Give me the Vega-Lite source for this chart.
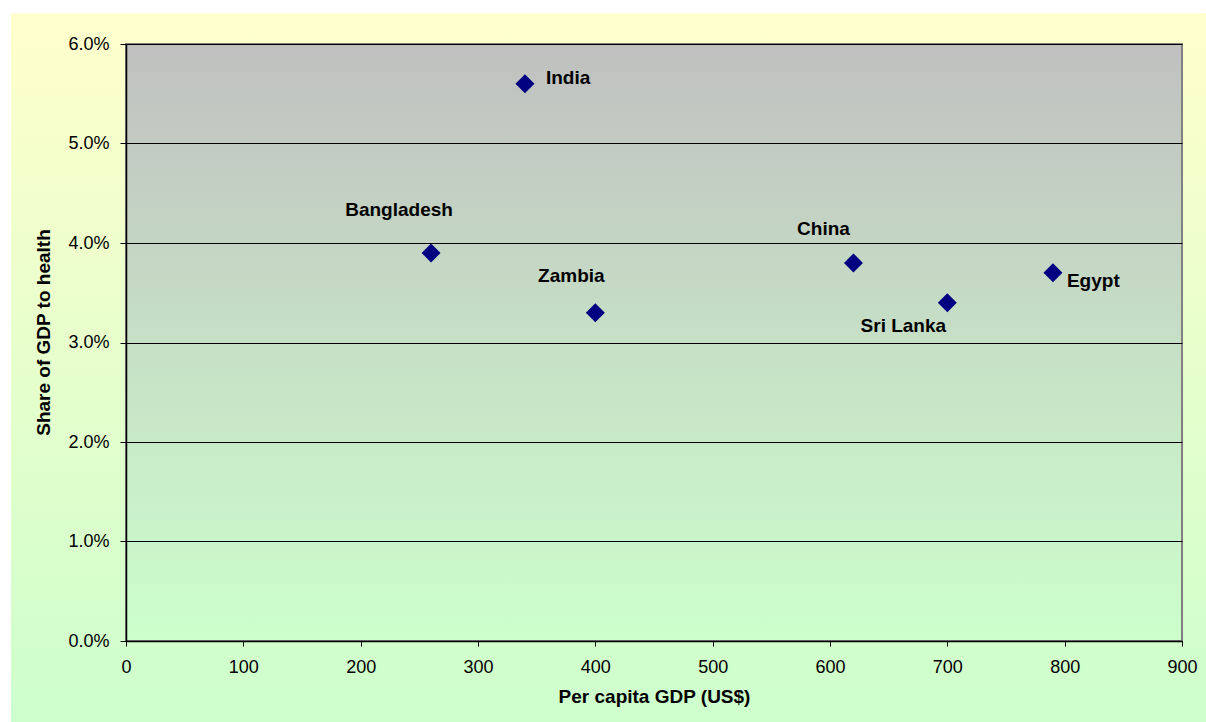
{
  "$schema": "https://vega.github.io/schema/vega-lite/v6.json",
  "width": 1056,
  "height": 597,
  "autosize": {"type": "none"},
  "padding": {"left": 126, "top": 44, "right": 24, "bottom": 81},
  "background": "#ffffff",
  "config": {
    "view": {"stroke": null},
    "font": "Liberation Sans",
    "axis": {
      "labelFont": "Liberation Sans",
      "labelFontSize": 18,
      "labelColor": "#000000",
      "labelFlush": false,
      "labelOverlap": false,
      "titleFont": "Liberation Sans",
      "titleFontSize": 19,
      "titleFontWeight": "bold",
      "titleColor": "#000000",
      "domainColor": "#000000",
      "domainWidth": 1.5,
      "tickColor": "#000000",
      "tickWidth": 1
    }
  },
  "data": {
    "values": [
      {"country": "India", "gdp": 340, "share": 0.056},
      {"country": "Bangladesh", "gdp": 260, "share": 0.039},
      {"country": "Zambia", "gdp": 400, "share": 0.033},
      {"country": "China", "gdp": 620, "share": 0.038},
      {"country": "Sri Lanka", "gdp": 700, "share": 0.034},
      {"country": "Egypt", "gdp": 790, "share": 0.037}
    ]
  },
  "layer": [
    {
      "data": {"values": [{}]},
      "mark": {
        "type": "rect",
        "clip": false,
        "fill": {
          "gradient": "linear",
          "x1": 0, "y1": 0, "x2": 0, "y2": 1,
          "stops": [
            {"offset": 0, "color": "#FFFFCC"},
            {"offset": 1, "color": "#CCFFCC"}
          ]
        }
      },
      "encoding": {
        "x": {
          "datum": -98,
          "type": "quantitative",
          "scale": {"domain": [0, 900], "nice": false, "zero": false},
          "axis": {
            "values": [0, 100, 200, 300, 400, 500, 600, 700, 800, 900],
            "grid": false,
            "tickSize": 5,
            "labelPadding": 12,
            "title": "Per capita GDP (US$)",
            "titlePadding": 11,
            "zindex": 2
          }
        },
        "x2": {"datum": 925},
        "y": {
          "datum": 0.0631,
          "type": "quantitative",
          "scale": {"domain": [0, 0.06], "nice": false, "zero": false},
          "axis": {
            "values": [0, 0.01, 0.02, 0.03, 0.04, 0.05, 0.06],
            "format": ".1%",
            "grid": true,
            "gridColor": "#000000",
            "gridWidth": 1,
            "tickSize": 6,
            "labelPadding": 11,
            "title": "Share of GDP to health",
            "titlePadding": 14,
            "titleY": 288,
            "zindex": 1
          }
        },
        "y2": {"datum": -0.009}
      }
    },
    {
      "data": {"values": [{}]},
      "mark": {
        "type": "rect",
        "stroke": "#808080",
        "strokeWidth": 2,
        "fill": {
          "gradient": "linear",
          "x1": 0, "y1": 0, "x2": 0, "y2": 1,
          "stops": [
            {"offset": 0, "color": "#C0C0C0"},
            {"offset": 1, "color": "#CCFFCC"}
          ]
        }
      },
      "encoding": {
        "x": {"datum": 0, "type": "quantitative"},
        "x2": {"datum": 900},
        "y": {"datum": 0.06, "type": "quantitative"},
        "y2": {"datum": 0}
      }
    },
    {
      "mark": {"type": "point", "shape": "diamond", "filled": true, "size": 361, "color": "#000080", "opacity": 1},
      "encoding": {
        "x": {"field": "gdp", "type": "quantitative"},
        "y": {"field": "share", "type": "quantitative"}
      }
    },
    {
      "transform": [{"filter": "datum.country === 'India'"}],
      "mark": {"type": "text", "font": "Liberation Sans", "fontSize": 19, "fontWeight": "bold", "color": "#000000", "align": "left", "baseline": "middle", "dx": 21, "dy": -6},
      "encoding": {"x": {"field": "gdp", "type": "quantitative"}, "y": {"field": "share", "type": "quantitative"}, "text": {"field": "country"}}
    },
    {
      "transform": [{"filter": "datum.country === 'Bangladesh'"}],
      "mark": {"type": "text", "font": "Liberation Sans", "fontSize": 19, "fontWeight": "bold", "color": "#000000", "align": "center", "baseline": "middle", "dx": -32, "dy": -43},
      "encoding": {"x": {"field": "gdp", "type": "quantitative"}, "y": {"field": "share", "type": "quantitative"}, "text": {"field": "country"}}
    },
    {
      "transform": [{"filter": "datum.country === 'Zambia'"}],
      "mark": {"type": "text", "font": "Liberation Sans", "fontSize": 19, "fontWeight": "bold", "color": "#000000", "align": "center", "baseline": "middle", "dx": -24, "dy": -37},
      "encoding": {"x": {"field": "gdp", "type": "quantitative"}, "y": {"field": "share", "type": "quantitative"}, "text": {"field": "country"}}
    },
    {
      "transform": [{"filter": "datum.country === 'China'"}],
      "mark": {"type": "text", "font": "Liberation Sans", "fontSize": 19, "fontWeight": "bold", "color": "#000000", "align": "center", "baseline": "middle", "dx": -30, "dy": -34},
      "encoding": {"x": {"field": "gdp", "type": "quantitative"}, "y": {"field": "share", "type": "quantitative"}, "text": {"field": "country"}}
    },
    {
      "transform": [{"filter": "datum.country === 'Sri Lanka'"}],
      "mark": {"type": "text", "font": "Liberation Sans", "fontSize": 19, "fontWeight": "bold", "color": "#000000", "align": "center", "baseline": "middle", "dx": -44, "dy": 23},
      "encoding": {"x": {"field": "gdp", "type": "quantitative"}, "y": {"field": "share", "type": "quantitative"}, "text": {"field": "country"}}
    },
    {
      "transform": [{"filter": "datum.country === 'Egypt'"}],
      "mark": {"type": "text", "font": "Liberation Sans", "fontSize": 19, "fontWeight": "bold", "color": "#000000", "align": "left", "baseline": "middle", "dx": 14, "dy": 8},
      "encoding": {"x": {"field": "gdp", "type": "quantitative"}, "y": {"field": "share", "type": "quantitative"}, "text": {"field": "country"}}
    }
  ]
}
